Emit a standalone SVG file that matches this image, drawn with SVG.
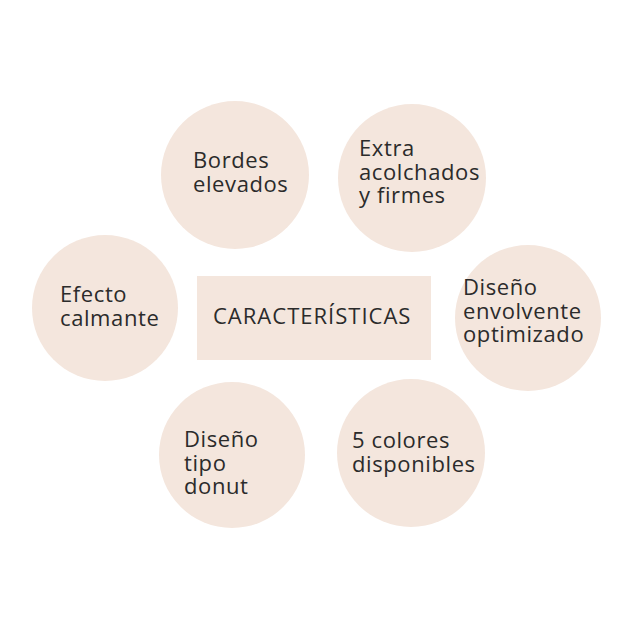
<svg xmlns="http://www.w3.org/2000/svg" width="640" height="640" viewBox="0 0 640 640">
<style>
.n{fill:#f4e6dd}
text{font-family:"Open Sans","Noto Sans",sans-serif;font-size:22px;letter-spacing:0.6px;fill:#2b2b2b}
</style>
<rect width="640" height="640" fill="#fff"/>
<g id="center"><rect class="n" x="197" y="276" width="234" height="84"/><text x="213" y="324" textLength="198">CARACTERÍSTICAS</text></g>
<g id="bordes"><circle class="n" cx="235" cy="175" r="74"/><text x="193" y="168">Bordes</text><text x="193" y="192">elevados</text></g>
<g id="extra"><circle class="n" cx="412" cy="178" r="74"/><text x="359" y="156">Extra</text><text x="359" y="180">acolchados</text><text x="359" y="203">y firmes</text></g>
<g id="efecto"><circle class="n" cx="105" cy="308" r="73"/><text x="60" y="302">Efecto</text><text x="60" y="326">calmante</text></g>
<g id="envolvente"><circle class="n" cx="528" cy="318" r="73"/><text x="463" y="295">Diseño</text><text x="463" y="319">envolvente</text><text x="463" y="342">optimizado</text></g>
<g id="donut"><circle class="n" cx="232" cy="455" r="73"/><text x="184" y="447">Diseño</text><text x="184" y="471">tipo</text><text x="184" y="494">donut</text></g>
<g id="colores"><circle class="n" cx="411" cy="453" r="74"/><text x="352" y="448">5 colores</text><text x="352" y="472">disponibles</text></g>
<g id="connectors"/>
</svg>
